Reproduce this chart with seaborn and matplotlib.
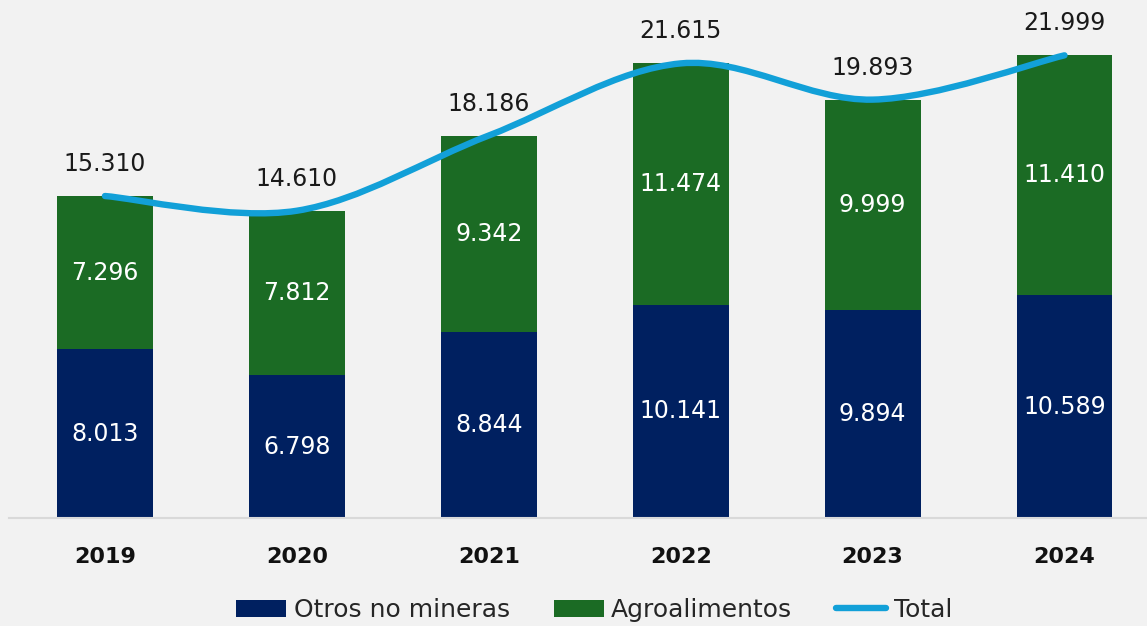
import numpy as np
import pandas as pd
import matplotlib
matplotlib.use("Agg")
import matplotlib.pyplot as plt
import seaborn as sns
from matplotlib.path import Path
from matplotlib.patches import PathPatch, Patch
from matplotlib.lines import Line2D

years = ["2019", "2020", "2021", "2022", "2023", "2024"]
otros = [8013, 6798, 8844, 10141, 9894, 10589]
agro = [7296, 7812, 9342, 11474, 9999, 11410]
total = [15310, 14610, 18186, 21615, 19893, 21999]
series_names = ["Otros no mineras", "Agroalimentos", "Total"]

NAVY = "#002060"
GREEN = "#1b6b24"
BLUE = "#12a0d8"
BG = "#f2f2f2"

def fmt(v):
    return f"{v:,}".replace(",", ".")

sns.set_theme(style="white")
plt.rcParams["font.family"] = ["DejaVu Sans"]

fig = plt.figure(figsize=(11.47, 6.26), dpi=100, facecolor=BG)
ax = fig.add_axes([9 / 1147, 108 / 626, 1 - 9 / 1147, 518 / 626])
ax.set_facecolor(BG)

df = pd.DataFrame({"year": years, "otros": otros, "agro": agro, "total": total})
sns.barplot(data=df, x="year", y="otros", color=NAVY, saturation=1, width=0.5,
            linewidth=0, ax=ax)
sns.barplot(data=df, x="year", y="agro", color=GREEN, saturation=1, width=0.5,
            linewidth=0, bottom=df["otros"].values, ax=ax)

# smoothed total line (Catmull-Rom as cubic Bezier, like Excel smoothing)
xs = np.arange(len(years), dtype=float)
ys = np.array(total, dtype=float)
verts = [(xs[0], ys[0])]
codes = [Path.MOVETO]
n = len(xs)
for i in range(n - 1):
    p0 = np.array([xs[max(i - 1, 0)], ys[max(i - 1, 0)]])
    p1 = np.array([xs[i], ys[i]])
    p2 = np.array([xs[i + 1], ys[i + 1]])
    p3 = np.array([xs[min(i + 2, n - 1)], ys[min(i + 2, n - 1)]])
    c1 = p1 + (p2 - p0) / 6
    c2 = p2 - (p3 - p1) / 6
    verts += [tuple(c1), tuple(c2), tuple(p2)]
    codes += [Path.CURVE4] * 3
ax.add_patch(PathPatch(Path(verts, codes), facecolor="none", edgecolor=BLUE,
                       lw=4.6, capstyle="round", joinstyle="round", zorder=4))

for i in range(n):
    ax.text(xs[i], otros[i] / 2, fmt(otros[i]), ha="center", va="center",
            color="white", fontsize=17, zorder=5)
    ax.text(xs[i], otros[i] + agro[i] / 2, fmt(agro[i]), ha="center", va="center",
            color="white", fontsize=17, zorder=5)
    ax.annotate(fmt(total[i]), (xs[i], total[i]), xytext=(0, 23),
                textcoords="offset points", ha="center", va="center",
                color="#1a1a1a", fontsize=17, zorder=5)

ax.set_xlim(-0.5, 5.43)
ax.set_ylim(0, 24630)
ax.set_xlabel("")
ax.set_ylabel("")
ax.set_yticks([])
for s in ["left", "right", "top"]:
    ax.spines[s].set_visible(False)
ax.spines["bottom"].set_color("#d9d9d9")
ax.spines["bottom"].set_linewidth(1.5)
ax.tick_params(axis="x", length=0, pad=21)
for lab in ax.get_xticklabels():
    lab.set_fontweight("bold")
    lab.set_fontsize(16)
    lab.set_color("#111111")

handles = [Patch(facecolor=NAVY, edgecolor="none"),
           Patch(facecolor=GREEN, edgecolor="none"),
           Line2D([0], [0], color=BLUE, lw=4.6, solid_capstyle="round")]
fig.legend(handles, series_names, loc="center", bbox_to_anchor=(0.518, 16 / 626),
           ncol=3, frameon=False, fontsize=18, handlelength=2.0, handleheight=0.65,
           handletextpad=0.3, columnspacing=1.75, borderaxespad=0, borderpad=0)

fig.savefig("out.png", dpi=100, facecolor=BG)
